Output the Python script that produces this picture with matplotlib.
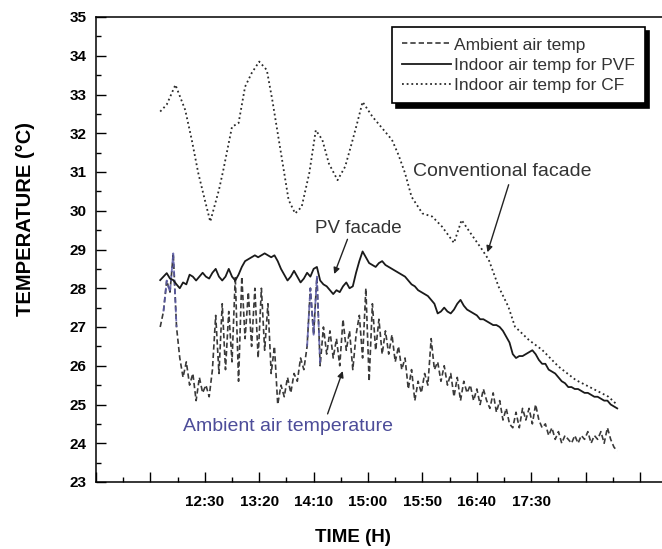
import numpy as np
import matplotlib
matplotlib.use("Agg")
import matplotlib.pyplot as plt
from matplotlib.ticker import FixedLocator, FixedFormatter, MultipleLocator

plt.rcParams['font.family'] = ['Liberation Sans', 'DejaVu Sans']

# ---- data (time in minutes after midnight, temperature in degC) ----
# conventional facade (CF) indoor air temperature
cf_time = [709, 715, 723, 732, 738, 744, 750, 755, 763, 767, 775, 781, 787, 793,
           800, 807, 812, 818, 823, 827, 833, 839, 846, 852, 858, 864, 872, 879,
           885, 890, 895, 904, 913, 922, 928, 934, 940, 950, 959, 968, 979, 986,
           994, 1005, 1011, 1020, 1029, 1035, 1048, 1060, 1075, 1091, 1103, 1121, 1129]
cf_temp = [32.56, 32.74, 33.25, 32.60, 31.83, 30.97, 30.28, 29.72, 30.54, 31.05,
           32.17, 32.26, 33.20, 33.55, 33.85, 33.63, 32.86, 31.83, 30.97, 30.28,
           29.93, 30.10, 30.97, 32.08, 31.83, 31.22, 30.79, 31.14, 31.74, 32.26,
           32.81, 32.43, 32.13, 31.83, 31.44, 30.97, 30.36, 29.93, 29.85, 29.59,
           29.17, 29.76, 29.43, 28.99, 28.73, 28.04, 27.52, 27.01, 26.66, 26.41,
           25.98, 25.63, 25.46, 25.20, 24.99]

# PV facade (PVF) indoor air temperature, sampled every 3 min from 709 min
pvf_start, pvf_step = 709, 3
pvf_temp = [28.21, 28.30, 28.39, 28.25, 28.21, 28.10, 28.00, 28.15, 28.10, 28.35,
            28.30, 28.20, 28.30, 28.40, 28.30, 28.25, 28.40, 28.50, 28.30, 28.20,
            28.30, 28.50, 28.30, 28.20, 28.35, 28.55, 28.70, 28.75, 28.80, 28.85,
            28.80, 28.85, 28.90, 28.85, 28.80, 28.85, 28.70, 28.50, 28.35, 28.20,
            28.30, 28.45, 28.30, 28.15, 28.25, 28.40, 28.30, 28.50, 28.55, 28.20,
            28.10, 28.05, 27.95, 27.85, 27.95, 27.90, 28.05, 28.15, 28.00, 28.05,
            28.40, 28.70, 28.95, 28.80, 28.65, 28.60, 28.55, 28.65, 28.70, 28.60,
            28.55, 28.50, 28.45, 28.40, 28.35, 28.30, 28.20, 28.10, 28.05, 27.95,
            27.90, 27.85, 27.80, 27.70, 27.60, 27.35, 27.40, 27.50, 27.40, 27.35,
            27.45, 27.60, 27.70, 27.55, 27.45, 27.40, 27.35, 27.30, 27.20, 27.20,
            27.15, 27.10, 27.05, 27.05, 27.00, 26.90, 26.75, 26.60, 26.30, 26.20,
            26.25, 26.25, 26.30, 26.35, 26.40, 26.30, 26.15, 26.05, 26.05, 25.90,
            25.85, 25.80, 25.70, 25.60, 25.55, 25.45, 25.45, 25.40, 25.40, 25.35,
            25.30, 25.30, 25.25, 25.20, 25.20, 25.15, 25.10, 25.10, 25.00, 24.95,
            24.90]

# ambient air temperature, sampled every 3 min from 709 min
amb_start, amb_step = 709, 3
amb_temp = [27.0, 27.4, 28.2, 27.9, 28.9, 27.0, 26.2, 25.7, 26.1, 25.5,
            25.8, 25.1, 25.7, 25.3, 25.5, 25.2, 25.9, 27.3, 25.8, 27.6,
            25.9, 27.4, 26.1, 28.3, 25.6, 28.3, 26.7, 27.9, 26.5, 28.0,
            26.2, 28.0, 26.4, 27.6, 25.8, 26.5, 25.0, 25.5, 25.2, 25.7,
            25.3, 25.8, 25.6, 26.2, 25.9, 26.5, 28.0, 26.8, 28.3, 26.0,
            27.0, 26.3, 26.9, 26.2, 26.7, 26.0, 27.2, 26.4, 26.9, 25.9,
            26.8, 27.3, 26.2, 28.0, 25.6, 27.6, 26.4, 27.2, 26.3, 26.9,
            26.3, 26.8, 26.1, 26.5, 25.9, 26.2, 25.4, 25.9, 25.1, 25.6,
            25.3, 25.8, 25.5, 26.7, 25.9, 26.1, 25.6, 26.0, 25.5, 25.8,
            25.2, 25.7, 25.1, 25.6, 25.3, 25.5, 25.1, 25.4, 25.0, 25.4,
            25.1, 24.9, 25.3, 24.8, 25.1, 24.6, 24.9, 24.5, 24.4, 24.8,
            24.4, 24.9, 24.6, 24.9, 24.5, 25.0, 24.6, 24.4, 24.5, 24.2,
            24.4, 24.1, 24.3, 24.0, 24.2, 24.1, 24.0, 24.2, 24.0, 24.2,
            24.1, 24.3, 24.0, 24.2, 24.1, 24.3, 24.0, 24.4, 24.1, 23.9,
            23.8]
# sample index ranges of the ambient trace that appear blue-tinted in the scan
amb_blue_ranges = [(1, 5), (45, 49)]

tick_minutes = [650, 700, 750, 800, 850, 900, 950, 1000, 1050, 1100, 1150]
tick_labels = ['', '', '12:30', '13:20', '14:10', '15:00', '15:50', '16:40', '17:30', '', '']
legend_labels = ['Ambient air temp', 'Indoor air temp for PVF', 'Indoor air temp for CF']

# ---- figure ----
W, H = 662, 549
fig = plt.figure(figsize=(W / 100, H / 100), dpi=100)
L, R, T, B = 96, 662, 17, 482
ax = fig.add_axes([L / W, 1 - B / H, (R - L) / W, (B - T) / H])

pvf_time = pvf_start + pvf_step * np.arange(len(pvf_temp))
amb_time = amb_start + amb_step * np.arange(len(amb_temp))
amb_arr = np.array(amb_temp)

l_amb, = ax.plot(amb_time, amb_temp, color='#3a3a3a', lw=1.2, linestyle=(0, (3.2, 1.8)))
for a, b in amb_blue_ranges:
    ax.plot(amb_time[a:b + 1], amb_arr[a:b + 1], color='#5a5aa8', lw=1.3,
            linestyle=(0, (3.2, 1.8)), alpha=0.85)
l_pvf, = ax.plot(pvf_time, pvf_temp, color='#1a1a1a', lw=1.3, linestyle='-')
l_cf, = ax.plot(cf_time, cf_temp, color='#2a2a2a', lw=1.3, linestyle=(0, (1, 1.6)))

ax.set_xlim(650, 650 + (R - L) * 0.919)
ax.set_ylim(23, 35)

ax.xaxis.set_major_locator(FixedLocator(tick_minutes))
ax.xaxis.set_major_formatter(FixedFormatter(tick_labels))
ax.xaxis.set_minor_locator(MultipleLocator(25))
ax.yaxis.set_major_locator(MultipleLocator(1))
ax.yaxis.set_minor_locator(MultipleLocator(0.5))

ax.tick_params(which='both', direction='in', top=False, right=False, width=1.0)
ax.tick_params(which='major', length=7)
ax.tick_params(which='minor', length=3.5)
ax.tick_params(axis='x', pad=9, labelsize=11)
ax.tick_params(axis='y', pad=7, labelsize=11)
for lab in ax.get_xticklabels() + ax.get_yticklabels():
    lab.set_fontweight('bold')

for s in ['left', 'bottom', 'top']:
    ax.spines[s].set_linewidth(1.1)
ax.spines['right'].set_visible(False)

fig.text(353 / W, 1 - 537 / H, 'TIME (H)', fontsize=13.5, fontweight='bold',
         ha='center', va='center')
fig.text(26 / W, 1 - 219 / H, 'TEMPERATURE (°C)', fontsize=14.5, fontweight='bold',
         ha='center', va='center', rotation=90)

# annotations
ax.text(941, 31.0, 'Conventional facade', fontsize=14, color='#333333', va='center', ha='left')
ax.annotate('', xy=(1009, 28.86), xytext=(1030, 30.74),
            arrowprops=dict(arrowstyle='-|>', color='#222222', lw=1.0, mutation_scale=9))
ax.text(851, 29.55, 'PV facade', fontsize=13.5, color='#333333', va='center', ha='left')
ax.annotate('', xy=(868, 28.3), xytext=(882, 29.33),
            arrowprops=dict(arrowstyle='-|>', color='#222222', lw=1.0, mutation_scale=9))
ax.text(730, 24.42, 'Ambient air temperature', fontsize=14, color='#4d4d99', va='center', ha='left')
ax.annotate('', xy=(877.6, 25.93), xytext=(862, 24.69),
            arrowprops=dict(arrowstyle='-|>', color='#222222', lw=1.0, mutation_scale=9))

leg = ax.legend([l_amb, l_pvf, l_cf], legend_labels, loc='upper right',
                bbox_to_anchor=(645 / W, 1 - 27 / H), bbox_transform=fig.transFigure,
                fontsize=12.5, frameon=True, fancybox=False, handlelength=2.8,
                handletextpad=0.15, labelspacing=0.29, borderpad=0.6, borderaxespad=0,
                shadow={'color': 'black', 'alpha': 1.0, 'ox': 3, 'oy': -3})
leg.get_frame().set_edgecolor('black')
leg.get_frame().set_linewidth(1.2)
for t in leg.get_texts():
    t.set_color('#333333')

fig.savefig('out.png', dpi=100)
